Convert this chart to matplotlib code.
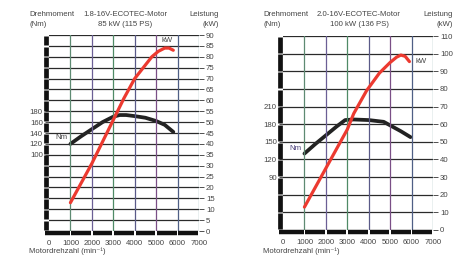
import matplotlib
matplotlib.use("Agg")
import matplotlib.pyplot as plt

plt.rcParams['font.family'] = ['Liberation Sans', 'DejaVu Sans']

# ---------------- data ----------------
rpm_ticks = [0, 1000, 2000, 3000, 4000, 5000, 6000, 7000]

# 1.8-16V engine
l_title = "1.8-16V-ECOTEC-Motor"
l_sub = "85 kW (115 PS)"
l_kw_ticks = [0, 5, 10, 15, 20, 25, 30, 35, 40, 45, 50, 55, 60, 65, 70, 75, 80, 85, 90]
l_nm_ticks = [100, 120, 140, 160, 180]
l_torque_rpm = [1000, 1500, 2000, 2500, 3000, 3300, 3600, 4000, 4500, 5000, 5400, 5800]
l_torque_nm = [120, 134, 147, 160, 170, 173, 173, 171, 168, 162, 155, 142]
l_power_rpm = [1000, 1500, 2000, 2500, 3000, 3500, 4000, 4400, 4800, 5100, 5400, 5600, 5800]
l_power_kw = [13, 22, 31, 41, 51, 61, 70, 75, 80, 82.5, 84, 84, 83]

# 2.0-16V engine
r_title = "2.0-16V-ECOTEC-Motor"
r_sub = "100 kW (136 PS)"
r_kw_ticks = [0, 10, 20, 30, 40, 50, 60, 70, 80, 90, 100, 110]
r_nm_ticks = [90, 120, 150, 180, 210]
r_torque_rpm = [1000, 1500, 2000, 2500, 2900, 3300, 4000, 4700, 5000, 5500, 5950]
r_torque_nm = [130, 146, 161, 176, 187, 188, 187, 184, 178, 168, 158]
r_power_rpm = [1000, 1500, 2000, 2500, 3000, 3300, 3900, 4500, 5000, 5300, 5500, 5700, 5900]
r_power_kw = [13, 24, 35, 46, 57, 66, 79, 89, 95, 98, 99.2, 98.5, 95.5]

W, H = 468, 257
fig = plt.figure(figsize=(W / 100, H / 100), dpi=100)
fig.patch.set_facecolor('white')

FS = 5.6
TXT = '#444444'
vcols = ['#111111', '#5e8a72', '#6b5f95', '#4f8a66', '#5a5a88', '#7a4f86', '#4f5f85', '#5f8f8f']


def panel(x0, x1, y_top, y_bot, kw_ticks, nm_ticks, nm_lim, t_rpm, t_nm, p_rpm, p_kw,
          title, sub, kw_lab, nm_lab, nm_col):
    pos = [x0 / W, 1 - y_bot / H, (x1 - x0) / W, (y_bot - y_top) / H]
    ax = fig.add_axes(pos)
    ax_t = ax.twinx()
    ax_t.set_zorder(1)
    ax.set_zorder(2)
    ax.patch.set_visible(False)
    ax_t.patch.set_facecolor('white')

    kmax = kw_ticks[-1]
    ax.set_xlim(0, 7000)
    ax.set_ylim(0, kmax)
    ax_t.set_ylim(*nm_lim)

    for a in (ax, ax_t):
        for s in a.spines.values():
            s.set_visible(False)

    # grid
    for k in kw_ticks[1:]:
        ax.plot([0, 7000], [k, k], color='#2a2a2a', lw=0.9, zorder=0.5)
    for i, r in enumerate(rpm_ticks[1:], start=1):
        ax.plot([r, r], [0, kmax], color=vcols[i], lw=0.9, zorder=0.5)

    px_x = (x1 - x0) / 7000.0
    px_y = (y_bot - y_top) / kmax
    # left thick bar with notches
    xb = -3.0 / px_x
    g = 0.7 / px_y
    for a_, b_ in zip(kw_ticks[:-1], kw_ticks[1:]):
        ax.plot([xb, xb], [a_ + g, b_ - g], color='#111111', lw=3.4,
                solid_capstyle='butt', clip_on=False, zorder=4)
    # bottom thick bar
    yb = -2.2 / px_y
    gx = 0.8 / px_x
    edges = [-5.0 / px_x] + rpm_ticks[1:]
    for a_, b_ in zip(edges[:-1], edges[1:]):
        ax.plot([a_ + gx, b_ - gx], [yb, yb], color='#111111', lw=3.2,
                solid_capstyle='butt', clip_on=False, zorder=4)

    # curves
    ax_t.plot(t_rpm, t_nm, color='#222222', lw=2.7, solid_capstyle='round', zorder=3)
    ax.plot(p_rpm, p_kw, color='#ec3a30', lw=2.3, solid_capstyle='round', zorder=3)

    # ticks
    ax.set_xticks(rpm_ticks)
    ax.set_xticklabels([str(r) for r in rpm_ticks])
    ax.tick_params(axis='x', length=0, pad=6.5, labelsize=FS, labelcolor=TXT)
    ax.yaxis.tick_right()
    ax.set_yticks(kw_ticks)
    ax.tick_params(axis='y', which='both', right=True, left=False, length=3.5, width=0.6,
                   color='#333333', pad=1.5, labelsize=FS, labelcolor=TXT)
    ax_t.yaxis.tick_left()
    ax_t.set_yticks(nm_ticks)
    ax_t.tick_params(axis='y', left=True, right=False, labelleft=True, labelright=False,
                     length=3, width=0.6, color='#333333', pad=1.5, labelsize=FS, labelcolor=TXT)
    ax_t.tick_params(axis='x', bottom=False, labelbottom=False)

    # labels
    ax.text(kw_lab[0], kw_lab[1], 'kW', fontsize=FS, color=TXT, ha='center', va='center', zorder=5)
    ax_t.text(nm_lab[0], nm_lab[1], 'Nm', fontsize=FS, color=nm_col, ha='center', va='center', zorder=5)

    lx = x0 - 20
    fig.text(lx / W, 1 - 15 / H, 'Drehmoment', fontsize=FS, color=TXT, ha='left', va='center')
    fig.text(lx / W, 1 - 25 / H, '(Nm)', fontsize=FS, color=TXT, ha='left', va='center')
    cx = x0 + 76
    fig.text(cx / W, 1 - 15 / H, title, fontsize=FS, color=TXT, ha='center', va='center')
    fig.text(cx / W, 1 - 25 / H, sub, fontsize=FS, color=TXT, ha='center', va='center')
    rx = x1 + 20
    fig.text(rx / W, 1 - 15 / H, 'Leistung', fontsize=FS, color=TXT, ha='right', va='center')
    fig.text(rx / W, 1 - 25 / H, '(kW)', fontsize=FS, color=TXT, ha='right', va='center')
    fig.text(lx / W, 1 - 251 / H, 'Motordrehzahl (min\u207b\u00b9)', fontsize=FS, color=TXT,
             ha='left', va='center')
    return ax


panel(49, 199, 35, 231, l_kw_ticks, l_nm_ticks, (-40, 320),
      l_torque_rpm, l_torque_nm, l_power_rpm, l_power_kw,
      l_title, l_sub, (5500, 87.3), (560, 131), '#444444')
panel(283, 433, 36, 230, r_kw_ticks, r_nm_ticks, (0, 330),
      r_torque_rpm, r_torque_nm, r_power_rpm, r_power_kw,
      r_title, r_sub, (6450, 95.5), (600, 138), '#4a3f7a')

fig.savefig('out.png', dpi=100, facecolor='white')
